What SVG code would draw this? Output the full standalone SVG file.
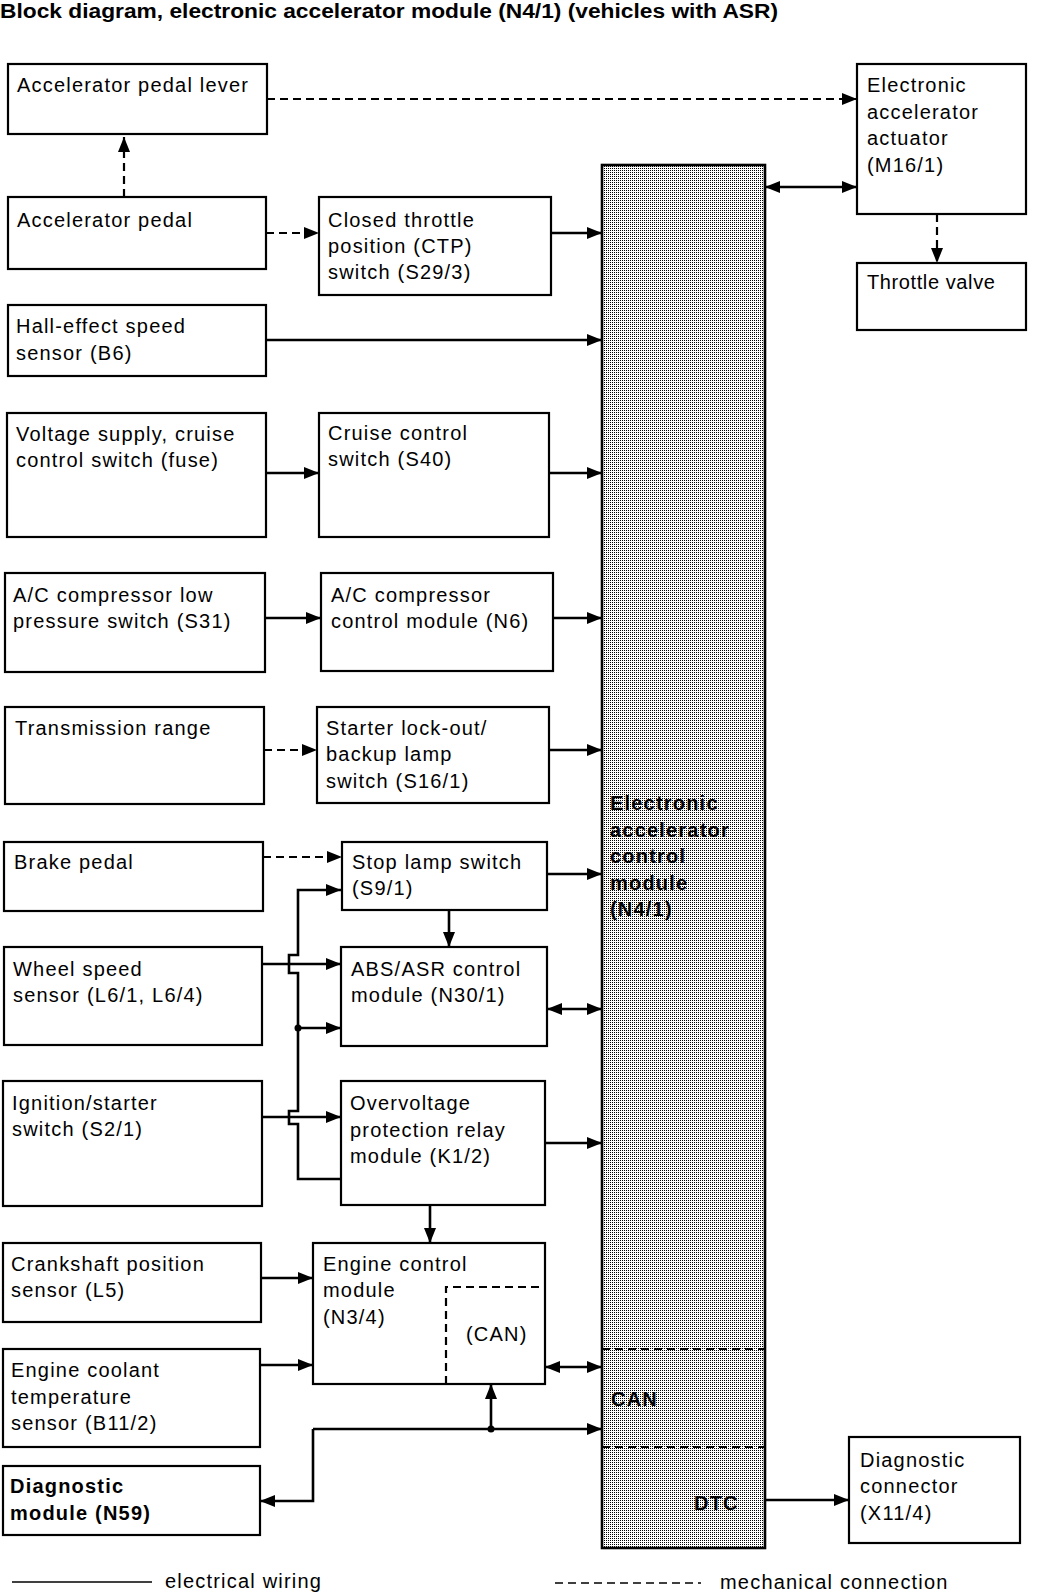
<svg xmlns="http://www.w3.org/2000/svg" width="1040" height="1594" viewBox="0 0 1040 1594">
<defs>
<style>
.box{fill:#fff;stroke:#000;stroke-width:2.2}
.t{font-family:"Liberation Sans",Arial,sans-serif;font-size:20px;letter-spacing:1.2px;fill:#000}
.b{font-weight:bold}
.w{fill:none;stroke:#000;stroke-width:2.6}
.m{fill:none;stroke:#000;stroke-width:2.2;stroke-dasharray:8 5}
.e{marker-end:url(#ah)}
.s{marker-start:url(#ah)}
</style>
<marker id="ah" markerUnits="userSpaceOnUse" markerWidth="15" markerHeight="12" refX="15" refY="6" orient="auto-start-reverse" viewBox="0 0 15 12"><path d="M0,0 L15,6 L0,12 z" fill="#000"/></marker>
<pattern id="stip" width="2" height="2" patternUnits="userSpaceOnUse"><rect width="2" height="2" fill="#fff"/><rect width="1" height="1" fill="#000"/></pattern>
</defs>
<rect width="1040" height="1594" fill="#fff"/>
<text class="t b" x="0" y="18" style="font-size:19.5px;letter-spacing:0" textLength="778" lengthAdjust="spacingAndGlyphs">Block diagram, electronic accelerator module (N4/1) (vehicles with ASR)</text>

<g id="n4-1">
<rect x="602" y="165" width="163" height="1383" fill="url(#stip)" stroke="#000" stroke-width="2.6"/>
<path class="m" d="M602,1349 H765 M602,1447 H765"/>
<text class="t b"><tspan x="610" y="810">Electronic</tspan><tspan x="610" y="837">accelerator</tspan><tspan x="610" y="863">control</tspan><tspan x="610" y="890">module</tspan><tspan x="610" y="916">(N4/1)</tspan></text>
<text class="t b" x="611" y="1406">CAN</text>
<text class="t b" x="694" y="1510">DTC</text>
</g>

<g id="lever"><rect class="box" x="8" y="64" width="259" height="70"/><text class="t" x="17" y="92">Accelerator pedal lever</text></g>
<g id="actuator"><rect class="box" x="857" y="64" width="169" height="150"/><text class="t"><tspan x="867" y="92">Electronic</tspan><tspan x="867" y="119">accelerator</tspan><tspan x="867" y="145">actuator</tspan><tspan x="867" y="172">(M16/1)</tspan></text></g>
<g id="throttle"><rect class="box" x="857" y="263" width="169" height="67"/><text class="t" x="867" y="289" style="letter-spacing:0.6px">Throttle valve</text></g>
<g id="pedal"><rect class="box" x="8" y="197" width="258" height="72"/><text class="t" x="17" y="227">Accelerator pedal</text></g>
<g id="ctp"><rect class="box" x="319" y="197" width="232" height="98"/><text class="t"><tspan x="328" y="227">Closed throttle</tspan><tspan x="328" y="253">position (CTP)</tspan><tspan x="328" y="279">switch (S29/3)</tspan></text></g>
<g id="hall"><rect class="box" x="8" y="305" width="258" height="71"/><text class="t"><tspan x="16" y="333">Hall-effect speed</tspan><tspan x="16" y="360">sensor (B6)</tspan></text></g>
<g id="fuse"><rect class="box" x="7" y="413" width="259" height="124"/><text class="t"><tspan x="16" y="441">Voltage supply, cruise</tspan><tspan x="16" y="467">control switch (fuse)</tspan></text></g>
<g id="s40"><rect class="box" x="319" y="413" width="230" height="124"/><text class="t"><tspan x="328" y="440">Cruise control</tspan><tspan x="328" y="466">switch (S40)</tspan></text></g>
<g id="s31"><rect class="box" x="5" y="573" width="260" height="99"/><text class="t"><tspan x="13" y="602">A/C compressor low</tspan><tspan x="13" y="628">pressure switch (S31)</tspan></text></g>
<g id="n6"><rect class="box" x="321" y="573" width="232" height="98"/><text class="t"><tspan x="331" y="602">A/C compressor</tspan><tspan x="331" y="628">control module (N6)</tspan></text></g>
<g id="trans"><rect class="box" x="5" y="707" width="259" height="97"/><text class="t" x="15" y="735">Transmission range</text></g>
<g id="s16-1"><rect class="box" x="317" y="707" width="232" height="96"/><text class="t"><tspan x="326" y="735">Starter lock-out/</tspan><tspan x="326" y="761">backup lamp</tspan><tspan x="326" y="788">switch (S16/1)</tspan></text></g>
<g id="brake"><rect class="box" x="4" y="842" width="259" height="69"/><text class="t" x="14" y="869">Brake pedal</text></g>
<g id="s9-1"><rect class="box" x="342" y="842" width="205" height="68"/><text class="t"><tspan x="352" y="869">Stop lamp switch</tspan><tspan x="352" y="895">(S9/1)</tspan></text></g>
<g id="wheel"><rect class="box" x="4" y="947" width="258" height="98"/><text class="t"><tspan x="13" y="976">Wheel speed</tspan><tspan x="13" y="1002">sensor (L6/1, L6/4)</tspan></text></g>
<g id="n30-1"><rect class="box" x="341" y="947" width="206" height="99"/><text class="t"><tspan x="351" y="976">ABS/ASR control</tspan><tspan x="351" y="1002">module (N30/1)</tspan></text></g>
<g id="s2-1"><rect class="box" x="3" y="1081" width="259" height="125"/><text class="t"><tspan x="12" y="1110">Ignition/starter</tspan><tspan x="12" y="1136">switch (S2/1)</tspan></text></g>
<g id="k1-2"><rect class="box" x="341" y="1081" width="204" height="124"/><text class="t"><tspan x="350" y="1110">Overvoltage</tspan><tspan x="350" y="1137">protection relay</tspan><tspan x="350" y="1163">module (K1/2)</tspan></text></g>
<g id="l5"><rect class="box" x="3" y="1243" width="258" height="79"/><text class="t"><tspan x="11" y="1271">Crankshaft position</tspan><tspan x="11" y="1297">sensor (L5)</tspan></text></g>
<g id="n3-4"><rect class="box" x="313" y="1243" width="232" height="141"/><text class="t"><tspan x="323" y="1271">Engine control</tspan><tspan x="323" y="1297">module</tspan><tspan x="323" y="1324">(N3/4)</tspan></text><path class="m" d="M446,1384 V1287 H545"/><text class="t" x="466" y="1341">(CAN)</text></g>
<g id="b11-2"><rect class="box" x="3" y="1349" width="257" height="98"/><text class="t"><tspan x="11" y="1377">Engine coolant</tspan><tspan x="11" y="1404">temperature</tspan><tspan x="11" y="1430">sensor (B11/2)</tspan></text></g>
<g id="n59"><rect class="box" x="3" y="1466" width="257" height="69" stroke-width="2.6"/><text class="t b"><tspan x="10" y="1493">Diagnostic</tspan><tspan x="10" y="1520">module (N59)</tspan></text></g>
<g id="x11-4"><rect class="box" x="849" y="1437" width="171" height="106"/><text class="t"><tspan x="860" y="1467">Diagnostic</tspan><tspan x="860" y="1493">connector</tspan><tspan x="860" y="1520">(X11/4)</tspan></text></g>

<g id="connectors">
<path class="m e" d="M267,99 H857"/>
<path class="m e" d="M124,197 V137"/>
<path class="m e" d="M266,233 H319"/>
<path class="w e" d="M551,233 H602"/>
<path class="w e" d="M266,340 H602"/>
<path class="w e s" d="M765,187 H857"/>
<path class="m e" d="M937,214 V263"/>
<path class="w e" d="M266,473 H319"/>
<path class="w e" d="M549,473 H602"/>
<path class="w e" d="M265,618 H321"/>
<path class="w e" d="M553,618 H602"/>
<path class="m e" d="M264,750 H317"/>
<path class="w e" d="M549,750 H602"/>
<path class="m e" d="M263,857 H342"/>
<path class="w e" d="M547,874 H602"/>
<path class="w e" d="M449,910 V947"/>
<path class="w e" d="M262,964 H341"/>
<path class="w e" d="M341,1179 H298 V1124 H289 V1111 H298 V973 H289 V955 H298 V890 H341"/>
<path class="w e" d="M298,1028 H341"/>
<circle cx="298" cy="1028" r="3.5" fill="#000"/>
<path class="w e s" d="M547,1009 H602"/>
<path class="w e" d="M262,1117 H341"/>
<path class="w e" d="M545,1143 H602"/>
<path class="w e" d="M430,1205 V1243"/>
<path class="w e" d="M261,1278 H313"/>
<path class="w e" d="M260,1365 H313"/>
<path class="w e s" d="M545,1367 H602"/>
<path class="w e" d="M313,1429 H602"/>
<path class="w e" d="M313,1429 V1501 H260"/>
<path class="w e" d="M491,1429 V1384"/>
<circle cx="491" cy="1429" r="3.5" fill="#000"/>
<path class="w e" d="M765,1500 H849"/>
</g>

<g id="legend">
<path d="M12,1582 H152" stroke="#000" stroke-width="1.5"/>
<text class="t" x="165" y="1588">electrical wiring</text>
<path d="M555,1583 H701" stroke="#000" stroke-width="1.5" stroke-dasharray="8 5"/>
<text class="t" x="720" y="1589">mechanical connection</text>
</g>
</svg>
